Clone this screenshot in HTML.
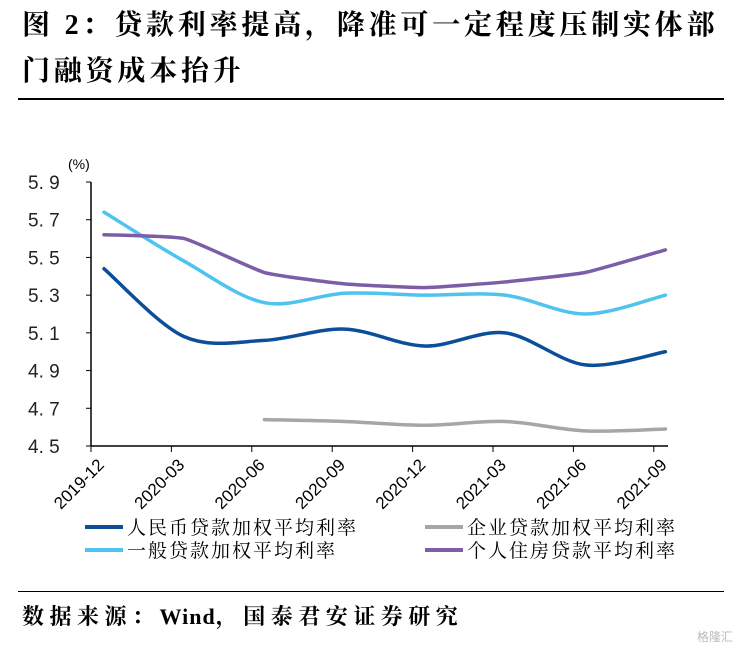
<!DOCTYPE html>
<html><head><meta charset="utf-8"><style>
body{margin:0;background:#fff;width:741px;height:650px;overflow:hidden;font-family:"Liberation Serif","Noto Serif CJK SC",serif}
.t{position:absolute;left:22px;top:3px;font-size:28px;font-weight:bold;line-height:46px;color:#000;width:720px;letter-spacing:3.8px;white-space:nowrap}
</style></head><body>
<div class="t">图 2：贷款利率提高，降准可一定程度压制实体部<br>门融资成本抬升</div>
<div style="position:absolute;left:18px;top:98px;width:706px;height:2px;background:#000"></div>
<div style="position:absolute;left:18px;top:591px;width:706px;height:1px;background:#000"></div>
<div style="position:absolute;left:22px;top:600px;font-size:22px;letter-spacing:5.5px;font-weight:bold;white-space:nowrap">数据来源：<span style="letter-spacing:1px">Wind</span>，国泰君安证券研究</div>
<div style="position:absolute;right:8px;top:628px;font-size:12px;color:#bbb;font-family:'Liberation Sans','Noto Sans CJK SC',sans-serif">格隆汇</div>
<svg id="c" width="741" height="650" style="position:absolute;left:0;top:0"></svg>
<script>
const categories=["2019-12","2020-03","2020-06","2020-09","2020-12","2021-03","2021-06","2021-09"];
const yTicks=[5.9,5.7,5.5,5.3,5.1,4.9,4.7,4.5];
const rmbRate=[5.44,5.08,5.06,5.12,5.03,5.10,4.93,5.00];
const generalRate=[5.74,5.48,5.26,5.31,5.30,5.30,5.20,5.30];
const mortgageRate=[5.62,5.60,5.42,5.36,5.34,5.37,5.42,5.54];
const corpRate=[null,null,4.64,4.63,4.61,4.63,4.58,4.59];
const seriesNames=["人民币贷款加权平均利率","企业贷款加权平均利率","一般贷款加权平均利率","个人住房贷款平均利率"];
const svg=document.getElementById('c');const NS='http://www.w3.org/2000/svg';
function mk(t,a,txt){const e=document.createElementNS(NS,t);for(const k in a)e.setAttribute(k,a[k]);if(txt!=null)e.textContent=txt;svg.appendChild(e);return e;}
const y=v=>446-(v-4.5)/1.4*264;
const xp=i=>104+80.2*i;
const xt=i=>91+80.4*i;
let e=mk('line',{x1:91,y1:182,x2:91,y2:446,stroke:'#000','stroke-width':1.5});

e=mk('line',{x1:91,y1:446,x2:668,y2:446,stroke:'#000','stroke-width':1.5});

e=mk('text',{x:68,y:169,'font-size':14,'font-family':'Liberation Sans,sans-serif'},'(%)');

yTicks.forEach(v=>{let t=mk('line',{x1:86,y1:y(v),x2:91,y2:y(v),stroke:'#000'});

let l=mk('text',{x:28,y:y(v)+7,'font-size':19,'font-family':'Liberation Sans,sans-serif',fill:'#222'},v.toFixed(1).replace('.','. '));
});
categories.forEach((c,i)=>{let t=mk('line',{x1:xt(i),y1:446,x2:xt(i),y2:452,stroke:'#000'});

let l=mk('text',{x:0,y:0,'font-size':17,'font-family':'Liberation Sans,sans-serif','text-anchor':'end',transform:`translate(${xt(i)+14},${466}) rotate(-45)`},c);
});
function path(vals,k){const p=[];vals.forEach((v,i)=>{if(v!=null)p.push([xp(i),y(v)]);});
let d=`M${p[0][0]},${p[0][1]}`;for(let i=0;i<p.length-1;i++){const p0=p[i-1]||p[i],p1=p[i],p2=p[i+1],p3=p[i+2]||p2;
d+=` C${p1[0]+(p2[0]-p0[0])*k},${p1[1]+(p2[1]-p0[1])*k} ${p2[0]-(p3[0]-p1[0])*k},${p2[1]-(p3[1]-p1[1])*k} ${p2[0]},${p2[1]}`;}return d;}
const defs=[[corpRate,'#a6a6a6','corp-line',0.16],[generalRate,'#4fc3f0','general-line',0.16],[mortgageRate,'#7b5ea7','mortgage-line',0.07],[rmbRate,'#0b4f9a','rmb-line',0.16]];
defs.forEach(s=>{let p=mk('path',{d:path(s[0],s[3]),fill:'none',stroke:s[1],'stroke-width':3.5,'stroke-linecap':'round'});
});
const leg=[[85,527,'#0b4f9a',0],[425,527,'#a6a6a6',1],[85,550,'#4fc3f0',2],[425,550,'#7b5ea7',3]];
leg.forEach(L=>{let l=mk('line',{x1:L[0],y1:L[1],x2:L[0]+38,y2:L[1],stroke:L[2],'stroke-width':4});

let t=mk('text',{x:L[0]+42,y:L[1]+7,'font-size':19,'letter-spacing':2,'font-family':'Noto Serif CJK SC,serif'},seriesNames[L[3]]);
});
</script>
</body></html>
